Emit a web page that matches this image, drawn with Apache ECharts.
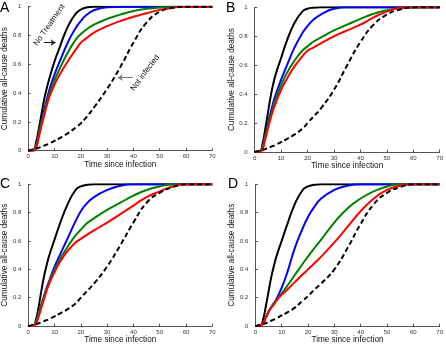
<!DOCTYPE html>
<html>
<head>
<meta charset="utf-8">
<script src="https://cdn.jsdelivr.net/npm/echarts@6/dist/echarts.min.js"></script>
<style>
  html, body { margin: 0; padding: 0; background: #fff; }
  #chart { width: 446px; height: 345px; }
</style>
</head>
<body>
<div id="chart"></div>
<script>
  // time since infection (shared x values)
  const times = [0, 2, 3, 4, 5, 6, 7, 8, 10, 12, 15, 18, 20, 22, 25, 30, 35, 40, 45, 50, 55, 60, 70];
  const xTicks = [0, 10, 20, 30, 40, 50, 60, 70];
  const yTicks = [0, 0.2, 0.4, 0.6, 0.8, 1];
  const panelNames = ['A', 'B', 'C', 'D'];

  // panel A
  const aBlack = [0, 0.005, 0.06, 0.15, 0.25, 0.35, 0.43, 0.5, 0.62, 0.72, 0.86, 0.95, 0.98, 0.995, 1, 1, 1, 1, 1, 1, 1, 1, 1];
  const aBlue = [0, 0.005, 0.04, 0.12, 0.2, 0.28, 0.35, 0.42, 0.53, 0.62, 0.75, 0.85, 0.9, 0.94, 0.975, 0.997, 1, 1, 1, 1, 1, 1, 1];
  const aGreen = [0, 0.005, 0.035, 0.11, 0.19, 0.26, 0.33, 0.39, 0.49, 0.57, 0.68, 0.77, 0.81, 0.84, 0.875, 0.915, 0.945, 0.97, 0.985, 0.995, 1, 1, 1];
  const aRed = [0, 0, 0.02, 0.09, 0.17, 0.24, 0.31, 0.37, 0.46, 0.53, 0.62, 0.7, 0.75, 0.78, 0.82, 0.865, 0.9, 0.93, 0.955, 0.978, 0.993, 1, 1];
  const aNotInfected = [0, 0.01, 0.015, 0.02, 0.028, 0.035, 0.042, 0.05, 0.068, 0.088, 0.12, 0.16, 0.19, 0.23, 0.3, 0.43, 0.58, 0.75, 0.89, 0.965, 0.992, 1, 1];

  // panel B
  const bBlack = [0, 0.005, 0.06, 0.16, 0.27, 0.38, 0.47, 0.54, 0.65, 0.76, 0.89, 0.97, 0.99, 0.997, 1, 1, 1, 1, 1, 1, 1, 1, 1];
  const bBlue = [0, 0.005, 0.04, 0.12, 0.2, 0.27, 0.34, 0.4, 0.5, 0.59, 0.72, 0.82, 0.87, 0.91, 0.95, 0.99, 1, 1, 1, 1, 1, 1, 1];
  const bGreen = [0, 0.005, 0.035, 0.11, 0.18, 0.25, 0.31, 0.37, 0.46, 0.54, 0.63, 0.7, 0.73, 0.76, 0.79, 0.84, 0.88, 0.92, 0.955, 0.98, 0.995, 1, 1];
  const bRed = [0, 0, 0.02, 0.09, 0.16, 0.23, 0.29, 0.34, 0.43, 0.5, 0.59, 0.66, 0.7, 0.72, 0.75, 0.8, 0.84, 0.88, 0.93, 0.97, 0.995, 1, 1];
  const bNotInfected = [0, 0.01, 0.015, 0.02, 0.028, 0.035, 0.042, 0.05, 0.068, 0.088, 0.12, 0.16, 0.2, 0.24, 0.3, 0.43, 0.6, 0.76, 0.88, 0.95, 0.985, 1, 1];

  // panel C
  const cBlack = [0, 0.005, 0.05, 0.14, 0.25, 0.35, 0.43, 0.5, 0.61, 0.72, 0.86, 0.96, 0.985, 0.995, 1, 1, 1, 1, 1, 1, 1, 1, 1];
  const cBlue = [0, 0.005, 0.03, 0.09, 0.15, 0.21, 0.27, 0.32, 0.42, 0.5, 0.62, 0.74, 0.81, 0.86, 0.91, 0.96, 0.99, 1, 1, 1, 1, 1, 1];
  const cGreen = [0, 0.005, 0.03, 0.09, 0.15, 0.21, 0.26, 0.31, 0.4, 0.47, 0.56, 0.64, 0.68, 0.72, 0.76, 0.82, 0.87, 0.92, 0.96, 0.985, 1, 1, 1];
  const cRed = [0, 0, 0.02, 0.07, 0.13, 0.19, 0.25, 0.3, 0.38, 0.45, 0.53, 0.59, 0.615, 0.64, 0.675, 0.73, 0.79, 0.85, 0.91, 0.95, 0.985, 1, 1];
  const cNotInfected = [0, 0.01, 0.015, 0.02, 0.028, 0.035, 0.042, 0.05, 0.068, 0.088, 0.12, 0.16, 0.2, 0.24, 0.3, 0.42, 0.57, 0.73, 0.87, 0.94, 0.98, 1, 1];

  // panel D
  const dBlack = [0, 0.005, 0.05, 0.14, 0.24, 0.34, 0.42, 0.49, 0.6, 0.71, 0.86, 0.96, 0.985, 0.995, 1, 1, 1, 1, 1, 1, 1, 1, 1];
  const dBlue = [0, 0.005, 0.02, 0.06, 0.1, 0.13, 0.16, 0.19, 0.27, 0.37, 0.55, 0.69, 0.77, 0.83, 0.9, 0.96, 0.99, 1, 1, 1, 1, 1, 1];
  const dGreen = [0, 0.005, 0.02, 0.06, 0.1, 0.13, 0.16, 0.18, 0.23, 0.28, 0.36, 0.44, 0.49, 0.54, 0.61, 0.73, 0.83, 0.9, 0.95, 0.985, 1, 1, 1];
  const dRed = [0, 0.005, 0.02, 0.06, 0.1, 0.13, 0.15, 0.18, 0.22, 0.255, 0.31, 0.365, 0.4, 0.435, 0.49, 0.59, 0.7, 0.81, 0.9, 0.96, 0.99, 1, 1];
  const dNotInfected = [0, 0.01, 0.015, 0.02, 0.03, 0.038, 0.046, 0.055, 0.075, 0.095, 0.13, 0.18, 0.21, 0.25, 0.3, 0.4, 0.55, 0.72, 0.86, 0.94, 0.98, 1, 1];

  const panels = [
    [aBlack, aBlue, aGreen, aRed, aNotInfected],
    [bBlack, bBlue, bGreen, bRed, bNotInfected],
    [cBlack, cBlue, cGreen, cRed, cNotInfected],
    [dBlack, dBlue, dGreen, dRed, dNotInfected],
  ];
  const lineColors = ['#000000', '#0000ff', '#008000', '#ff0000', '#000000'];

  const FONT = '"Liberation Sans", Arial, Helvetica, sans-serif';

  const grids = [
    { left: 25.7, right: 233.7, top: 6.7, bottom: 194.3 },
    { left: 254.7, right: 4.7, top: 7.3, bottom: 193 },
    { left: 25, right: 233.7, top: 184.3, bottom: 17.3 },
    { left: 255.3, right: 4, top: 184.3, bottom: 17.7 },
  ];

  const letterPos = [[0, 1], [226, 1], [0, 177], [228, 177]];

  const chart = echarts.init(document.getElementById('chart'), null, { renderer: 'canvas' });

  const axisCommon = {
    axisLine: { show: true, lineStyle: { color: '#555', width: 1 } },
    axisTick: { show: true, inside: true, length: 2.5, lineStyle: { color: '#555' } },
    splitLine: { show: false },
    axisLabel: { color: '#333', fontSize: 6, fontFamily: FONT },
  };

  const xAxes = grids.map((g, i) => ({
    ...axisCommon,
    type: 'value',
    gridIndex: i,
    min: xTicks[0],
    max: xTicks[xTicks.length - 1],
    interval: 10,
    name: 'Time since infection',
    nameLocation: 'middle',
    nameGap: 9,
    nameTextStyle: { fontSize: 8.2, color: '#111', fontFamily: FONT },
    axisLabel: { ...axisCommon.axisLabel, margin: 3 },
  }));

  const yAxes = grids.map((g, i) => ({
    ...axisCommon,
    type: 'value',
    gridIndex: i,
    min: yTicks[0],
    max: yTicks[yTicks.length - 1],
    interval: 0.2,
    name: 'Cumulative all-cause deaths',
    nameLocation: 'middle',
    nameGap: 16,
    nameTextStyle: { fontSize: 8.2, color: '#111', fontFamily: FONT },
    axisLabel: {
      ...axisCommon.axisLabel,
      margin: 7,
      formatter: (v) => String(Math.round(v * 10) / 10),
    },
  }));

  const series = [];
  panels.forEach((curves, p) => {
    curves.forEach((vals, k) => {
      const s = {
        type: 'line',
        xAxisIndex: p,
        yAxisIndex: p,
        data: times.map((t, j) => [t, vals[j]]),
        showSymbol: false,
        smooth: 0.5,
        silent: true,
        z: k === 4 ? 3 : 2 + k * 0.1,
        lineStyle: {
          color: lineColors[k],
          width: 2,
          type: k === 4 ? [5, 3] : 'solid',
        },
      };
      if (p === 0 && k === 4) {
        s.markLine = {
          silent: true,
          symbol: ['none', 'arrow'],
          symbolSize: 5,
          label: { show: false },
          data: [
            [{ coord: [6.0, 0.75], lineStyle: { color: '#222', width: 1, type: 'solid' } }, { coord: [10.4, 0.75] }],
            [{ coord: [39.8, 0.507], lineStyle: { color: '#777', width: 1, type: 'solid' } }, { coord: [34.1, 0.507] }],
          ],
        };
      }
      series.push(s);
    });
  });

  chart.setOption({
    animation: false,
    grid: grids,
    xAxis: xAxes,
    yAxis: yAxes,
    series: series,
  });

  // annotations placed through the axes of panel A
  const noTreat = chart.convertToPixel({ gridIndex: 0 }, [8.0, 0.873]);
  const notInf = chart.convertToPixel({ gridIndex: 0 }, [44.4, 0.54]);

  const graphics = panelNames.map((name, i) => ({
    type: 'text',
    left: letterPos[i][0],
    top: letterPos[i][1],
    style: { text: name, fill: '#000', font: '14px ' + FONT },
  }));
  graphics.push({
    type: 'text',
    x: noTreat[0],
    y: noTreat[1],
    rotation: 55 * Math.PI / 180,
    style: { text: 'No Treatment', align: 'center', verticalAlign: 'middle', fill: '#111', font: '8px ' + FONT },
  });
  graphics.push({
    type: 'text',
    x: notInf[0],
    y: notInf[1],
    rotation: 53 * Math.PI / 180,
    style: { text: 'Not infected', align: 'center', verticalAlign: 'middle', fill: '#111', font: '8px ' + FONT },
  });

  chart.setOption({ graphic: graphics });
</script>
</body>
</html>
